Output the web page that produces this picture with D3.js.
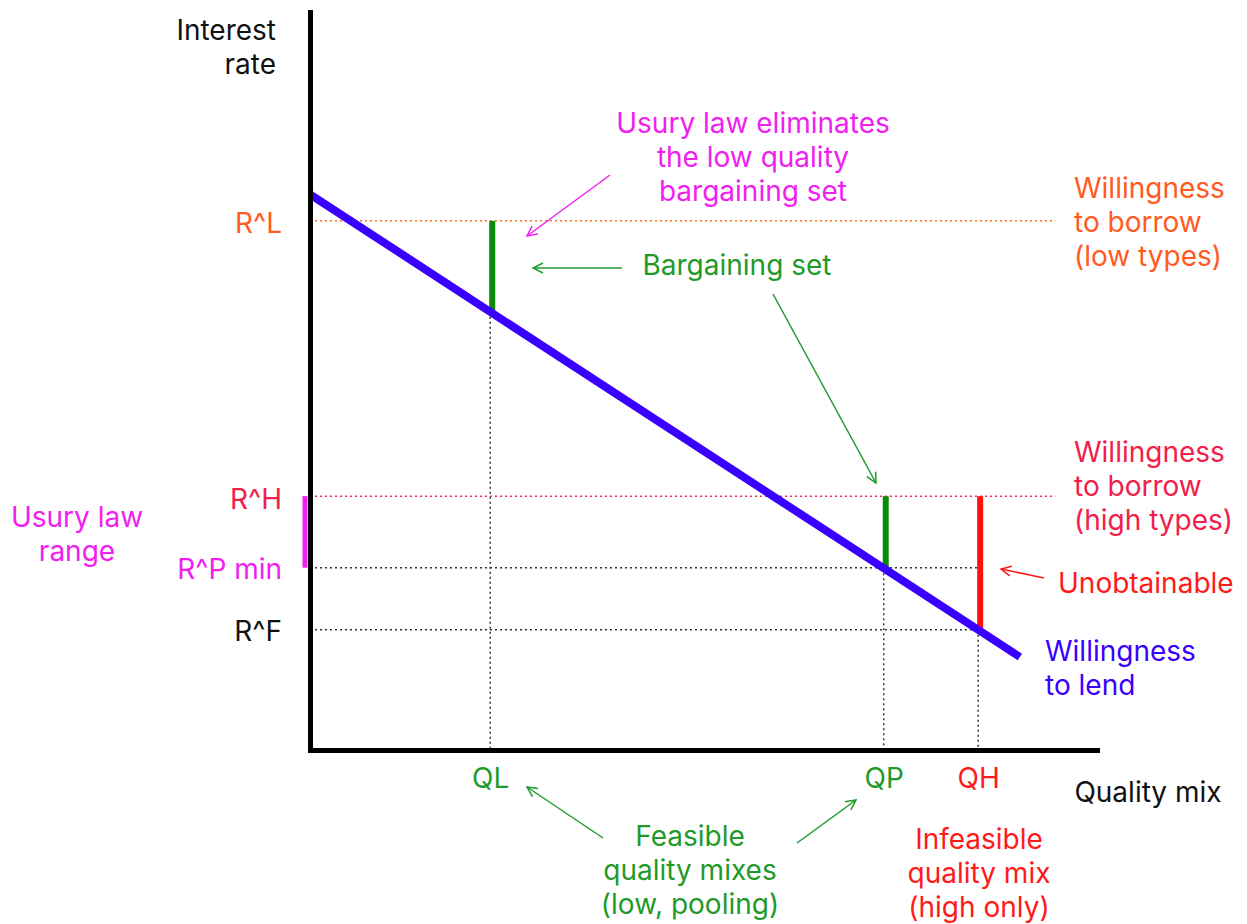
<!DOCTYPE html>
<html>
<head>
<meta charset="utf-8">
<title>Usury law</title>
<style>
body { margin: 0; background: #fff; }
svg text { font-family: Inter, "Noto Sans", sans-serif; font-size: 28px; }
.dot { fill: none; stroke-width: 1.5px; stroke-dasharray: 2,3; }
.arrow { fill: none; stroke-width: 1.5px; }
</style>
<script src="https://cdn.jsdelivr.net/npm/d3@7"></script>
</head>
<body>
<svg width="1247" height="924"></svg>
<script>
// values in chart units (quality 0..10, rate 0..10)
var rateNames = ["R^L", "R^H", "R^P min", "R^F"],
    rateValues = [7.17, 3.44, 2.47, 1.63],
    rateColors = ["#ff5a1f", "#f0204a", "#f020f0", "#111"];

var qualNames = ["QL", "QP", "QH"],
    qualValues = [2.29, 7.29, 8.49],
    qualColors = ["#1f9a2a", "#1f9a2a", "#ff1a1a"];

// willingness to lend: straight line
var lendLine = [[0, 7.53], [9.02, 1.26]];

// bargaining / unobtainable bars: [quality, top rate, bottom rate]
var bars = [[2.29, 7.17, 5.94], [7.29, 3.44, 2.47], [8.49, 3.44, 1.63]],
    barColors = ["#0a8a0a", "#0a8a0a", "#ff1010"];

var svg = d3.select("svg"),
    x = d3.scaleLinear().domain([0, 10]).range([310, 1097]),
    y = d3.scaleLinear().domain([0, 10]).range([750, 12]);

function lend(q) {
  var a = lendLine[0], b = lendLine[1];
  return a[1] + (b[1] - a[1]) * (q - a[0]) / (b[0] - a[0]);
}

var defs = svg.append("defs");
["#1f9a2a", "#f020f0", "#ff1a1a"].forEach(function(c, i) {
  defs.append("marker")
      .attr("id", "ah" + i)
      .attr("viewBox", "0 0 12 12")
      .attr("refX", 11).attr("refY", 6)
      .attr("markerWidth", 12).attr("markerHeight", 12)
      .attr("markerUnits", "userSpaceOnUse")
      .attr("orient", "auto")
    .append("path")
      .attr("d", "M1,1 L11,6 L1,11")
      .attr("fill", "none")
      .attr("stroke", c)
      .attr("stroke-width", 1.5);
});

// guide lines
var guideEnd = [9.47, 9.47, 8.49, 8.49],
    guideColor = ["#ff6a2a", "#f0305a", "#333", "#333"];
rateValues.forEach(function(r, i) {
  svg.append("line").attr("class", "dot")
      .attr("x1", x(0)).attr("x2", x(guideEnd[i]))
      .attr("y1", y(r)).attr("y2", y(r))
      .attr("stroke", guideColor[i]);
});
qualValues.forEach(function(q) {
  svg.append("line").attr("class", "dot")
      .attr("x1", x(q)).attr("x2", x(q))
      .attr("y1", y(lend(q))).attr("y2", y(0))
      .attr("stroke", "#333");
});

// bars
svg.selectAll(".bar").data(bars).enter().append("line")
    .attr("x1", function(d) { return x(d[0]) + 2; })
    .attr("x2", function(d) { return x(d[0]) + 2; })
    .attr("y1", function(d) { return y(d[1]); })
    .attr("y2", function(d) { return y(d[2]); })
    .attr("stroke", function(d, i) { return barColors[i]; })
    .attr("stroke-width", 6);

// usury law range
svg.append("line")
    .attr("x1", x(0) - 5).attr("x2", x(0) - 5)
    .attr("y1", y(rateValues[1])).attr("y2", y(rateValues[2]))
    .attr("stroke", "#f020f0").attr("stroke-width", 5);

// willingness to lend
svg.append("path")
    .datum(lendLine)
    .attr("d", d3.line().x(function(d) { return x(d[0]); }).y(function(d) { return y(d[1]); }))
    .attr("fill", "none")
    .attr("stroke", "#3a00ff")
    .attr("stroke-width", 8);

// axes
var yAxis = svg.append("g")
    .attr("transform", "translate(" + x(0) + ",0)")
    .call(d3.axisLeft(y).tickValues(rateValues).tickSize(0).tickPadding(28)
      .tickFormat(function(d, i) { return rateNames[i]; }));
yAxis.selectAll("text")
    .attr("dy", function(d, i) { return i === 1 ? "0.45em" : "0.4em"; })
    .attr("fill", function(d, i) { return rateColors[i]; });

var xAxis = svg.append("g")
    .attr("transform", "translate(0," + y(0) + ")")
    .call(d3.axisBottom(x).tickValues(qualValues).tickSize(0).tickPadding(18)
      .tickFormat(function(d, i) { return qualNames[i]; }));
xAxis.selectAll("text").attr("fill", function(d, i) { return qualColors[i]; });

svg.selectAll(".domain")
    .attr("stroke", "#000").attr("stroke-width", 5).attr("stroke-linecap", "square");
svg.selectAll("g").attr("font-family", null).attr("font-size", null);

// annotations
function label(lines, px, py, anchor, color) {
  var t = svg.append("text").attr("text-anchor", anchor).attr("fill", color);
  lines.forEach(function(s, i) {
    t.append("tspan").attr("x", px).attr("y", py + i * 34).text(s);
  });
}
label(["Interest", "rate"], 276, 40, "end", "#111");
label(["Quality mix"], 1148, 802, "middle", "#111");
label(["Usury law", "range"], 77, 527, "middle", "#f020f0");
label(["Usury law eliminates", "the low quality", "bargaining set"], 753, 133, "middle", "#f020f0");
label(["Bargaining set"], 737, 275, "middle", "#1f9a2a");
label(["Willingness", "to borrow", "(low types)"], 1074, 198, "start", "#ff5a1f");
label(["Willingness", "to borrow", "(high types)"], 1074, 462, "start", "#f0204a");
label(["Unobtainable"], 1058, 593, "start", "#ff1a1a");
label(["Willingness", "to lend"], 1045, 661, "start", "#3a00ff");
label(["Feasible", "quality mixes", "(low, pooling)"], 690, 846, "middle", "#1f9a2a");
label(["Infeasible", "quality mix", "(high only)"], 979, 849, "middle", "#ff1a1a");

function arrow(x1, y1, x2, y2, m, color) {
  svg.append("line").attr("class", "arrow")
      .attr("x1", x1).attr("y1", y1).attr("x2", x2).attr("y2", y2)
      .attr("stroke", color)
      .attr("marker-end", "url(#ah" + m + ")");
}
arrow(610, 175, 527, 236, 1, "#f020f0");
arrow(622, 268, 533, 268, 0, "#1f9a2a");
arrow(773, 294, 876, 483, 0, "#1f9a2a");
arrow(1044, 578, 1001, 569, 2, "#ff1a1a");
arrow(603, 838, 527, 787, 0, "#1f9a2a");
arrow(797, 843, 856, 800, 0, "#1f9a2a");
</script>
</body>
</html>
